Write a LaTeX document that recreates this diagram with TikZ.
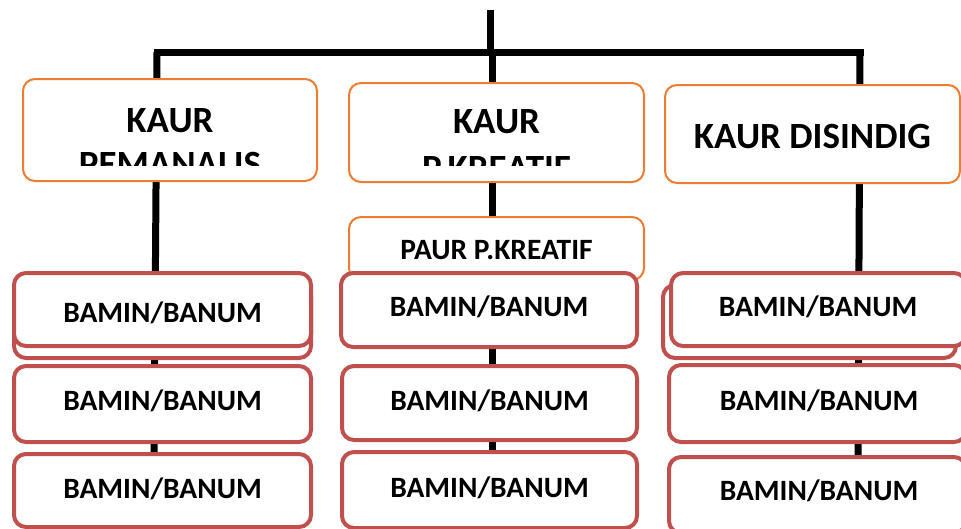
\documentclass[tikz,border=0pt]{standalone}
\usepackage{fontspec}
\setmainfont{Carlito}
\definecolor{kOrange}{HTML}{ED7D31}
\definecolor{kRed}{HTML}{C0504D}
\begin{document}
\begin{tikzpicture}[x=1pt,y=-1pt]
\tikzset{
 obox/.style={draw=kOrange, line width=2pt, rounded corners=12pt, fill=white, rectangle, inner sep=0pt},
 rbox/.style={draw=kRed, line width=4pt, rounded corners=12pt, fill=white, rectangle, inner sep=0pt},
 smalltxt/.style={font=\bfseries\fontsize{29.5}{34}\selectfont, inner sep=0pt, anchor=base},
 bigtxt/.style={font=\bfseries\fontsize{37}{44}\selectfont, inner sep=0pt, anchor=base},
 conn/.style={line width=7pt, black}
}
\useasboundingbox (0,0) rectangle (961,528);
\fill[white] (0,0) rectangle (961,528);
% connector points
\coordinate (top) at (490,10);
\coordinate (jn) at (490,52);
\coordinate (hl) at (157,52);
\coordinate (hr) at (860,52);
\coordinate (lend) at (154,462);
\coordinate (mtop) at (492,52);
\coordinate (mend) at (492,462);
\coordinate (rend) at (858,462);
\draw[conn] (top) -- (jn);
\draw[conn] ([xshift=-3.5pt]hl) -- ([xshift=3.5pt]hr);
\draw[conn] (hl) -- (lend);
\draw[conn] (mtop) -- (mend);
\draw[conn] (hr) -- (rend);
% KAUR boxes
\node[obox, minimum width=294pt, minimum height=102pt] (kaurL) at (170,130) {};
\node[obox, minimum width=295pt, minimum height=99pt] (kaurM) at (496.5,132.5) {};
\node[obox, minimum width=295pt, minimum height=98pt] (kaurR) at (812.5,134) {};
\node[bigtxt] (tL1) at (170,132) {KAUR};
\node[bigtxt] (tM1) at (496.5,133) {KAUR};
\begin{scope}
\clip (0,0) rectangle (961,165);
\node[bigtxt] (tL2) at (170,176) {PEMANALIS};
\node[bigtxt] (tM2) at (496.5,180) {P.KREATIF};
\end{scope}
\node[bigtxt] (tR) at (812.5,148) {KAUR DISINDIG};
% PAUR
\node[obox, minimum width=295pt, minimum height=63pt] (paur) at (496.5,248.5) {};
\node[smalltxt] (tPaur) at (496.5,259.5) {PAUR P.KREATIF};
% left column
\node[rbox, minimum width=297pt, minimum height=73pt] (Lback) at (162.5,321.5) {};
\node[rbox, minimum width=297pt, minimum height=73pt] (L1) at (162.5,309.5) {};
\node[rbox, minimum width=297pt, minimum height=76pt] (L2) at (162.5,404) {};
\node[rbox, minimum width=297pt, minimum height=73pt] (L3) at (162.5,490.5) {};
\node[smalltxt] (tL1b) at (162.5,322) {BAMIN/BANUM};
\node[smalltxt] (tL2b) at (162.5,410.5) {BAMIN/BANUM};
\node[smalltxt] (tL3b) at (162.5,498.5) {BAMIN/BANUM};
% middle column
\node[rbox, minimum width=296pt, minimum height=74pt] (M1) at (489,310) {};
\node[rbox, minimum width=295pt, minimum height=74pt] (M2) at (489.5,403) {};
\node[rbox, minimum width=295pt, minimum height=76pt] (M3) at (489.5,490) {};
\node[smalltxt] (tM1b) at (489,316.5) {BAMIN/BANUM};
\node[smalltxt] (tM2b) at (489.5,410.5) {BAMIN/BANUM};
\node[smalltxt] (tM3b) at (489.5,497.5) {BAMIN/BANUM};
% right column
\node[rbox, minimum width=293pt, minimum height=73pt] (Rback) at (809.5,321.5) {};
\node[rbox, minimum width=295pt, minimum height=73pt] (R1) at (818.5,309.5) {};
\node[rbox, minimum width=297pt, minimum height=77pt] (R2) at (817.5,403.5) {};
\node[rbox, minimum width=297pt, minimum height=76pt] (R3) at (817.5,495) {};
\node[smalltxt] (tR1b) at (818,316.5) {BAMIN/BANUM};
\node[smalltxt] (tR2b) at (819,410.5) {BAMIN/BANUM};
\node[smalltxt] (tR3b) at (819,500.5) {BAMIN/BANUM};
\end{tikzpicture}
\end{document}
